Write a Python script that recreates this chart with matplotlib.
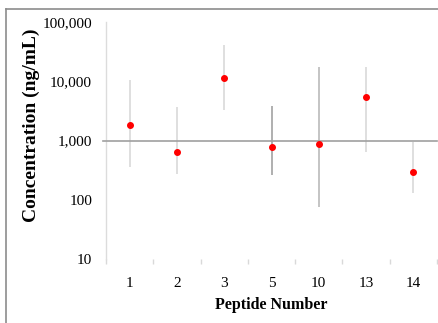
import matplotlib
matplotlib.use("Agg")
import matplotlib.pyplot as plt
from matplotlib.ticker import FixedLocator, FuncFormatter
from matplotlib.lines import Line2D

# data
peptides = ['1', '2', '3', '5', '10', '13', '14']
conc = [1810, 628, 11400, 792, 880, 5460, 296]
upper = [10700, 3640, 40400, 3890, 17200, 17200, 937]
lower = [360, 274, 3240, 260, 75, 635, 131]

bar_colors = ['#d6d6d6', '#d6d6d6', '#d6d6d6', '#9a9a9a', '#b4b4b4', '#d6d6d6', '#d6d6d6']

plt.rcParams['font.family'] = ['Liberation Serif', 'DejaVu Serif']

fig = plt.figure(figsize=(4.38, 3.23), dpi=100)
ax = fig.add_axes([106 / 438, 1 - 259 / 323, 331 / 438, 237 / 323])

x = list(range(len(peptides)))
for i in x:
    ax.errorbar(i, conc[i], yerr=[[conc[i] - lower[i]], [upper[i] - conc[i]]],
                fmt='none', ecolor=bar_colors[i], elinewidth=1.1, capsize=0, zorder=2)
ax.plot(x, conc, 'o', color='#ff0000', markersize=4, zorder=4)

ax.axhline(1000, xmin=-0.01, xmax=1, color='#a0a0a0', lw=1.2, zorder=3, clip_on=False)

ax.set_yscale('log')
ax.set_ylim(10, 100000)
ax.set_xlim(-0.5, len(peptides) - 0.5)
ax.yaxis.set_major_locator(FixedLocator([10, 100, 1000, 10000, 100000]))
ax.yaxis.set_minor_locator(FixedLocator([]))
ax.yaxis.set_major_formatter(FuncFormatter(lambda v, p: f"{int(v):,}"))

ax.set_xticks(x)
ax.set_xticklabels(peptides)
ax.set_xticks([i - 0.5 for i in range(len(peptides) + 1)], minor=True)
ax.tick_params(axis='x', which='major', length=0, pad=13, labelsize=11)
ax.tick_params(axis='x', which='minor', length=3.5, width=1, color='#d9d9d9', direction='out')
ax.tick_params(axis='y', which='major', length=0, pad=10, labelsize=11)

for s in ['top', 'right', 'bottom']:
    ax.spines[s].set_visible(False)
ax.spines['left'].set_color('#dcdcdc')
ax.spines['left'].set_linewidth(1)

ax.set_xlabel('Peptide Number', fontsize=11.5, fontweight='bold', labelpad=5)
ax.set_ylabel('Concentration (ng/mL)', fontsize=14, fontweight='bold')
ax.yaxis.set_label_coords(-0.2, 0.565)

# outer chart frame (only top and left edges visible)
fig.add_artist(Line2D([6 / 438, 1.05], [1 - 9 / 323, 1 - 9 / 323], color='#8c8c8c', lw=1.2))
fig.add_artist(Line2D([6 / 438, 6 / 438], [1 - 9 / 323, -0.05], color='#8c8c8c', lw=1.2))

fig.savefig('out.png', dpi=100)
